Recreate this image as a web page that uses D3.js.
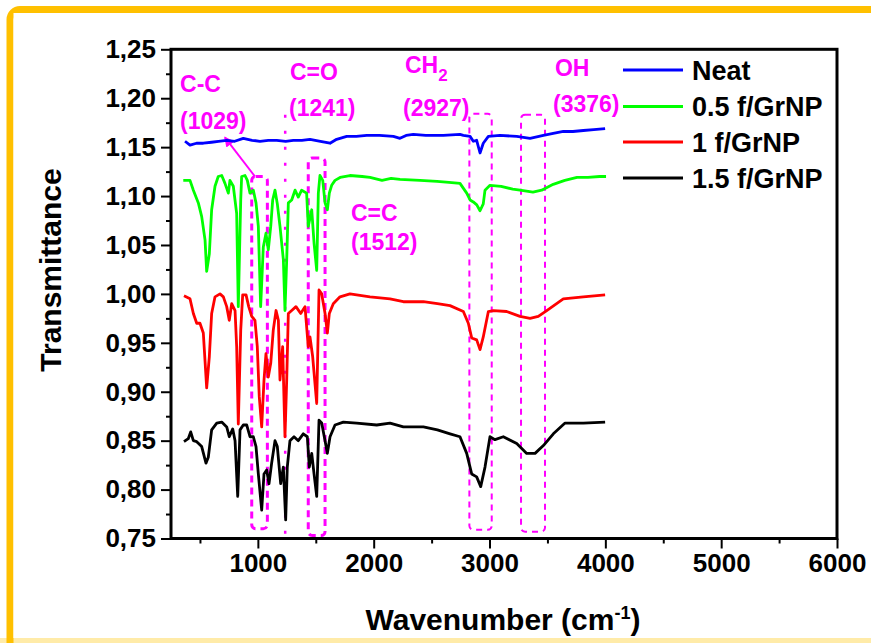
<!DOCTYPE html>
<html><head><meta charset="utf-8">
<script src="https://cdn.jsdelivr.net/npm/d3@7/dist/d3.min.js"></script>
<style>
html,body{margin:0;padding:0;background:#fff;}
svg text{font-family:"Liberation Sans",Arial,sans-serif;font-weight:bold;}
</style></head>
<body><svg id="c" width="871" height="643"></svg>
<script>
// ---- data ----
const seriesNames = ["Neat", "0.5 f/GrNP", "1 f/GrNP", "1.5 f/GrNP"];
const xMajorTicks = [1000, 2000, 3000, 4000, 5000, 6000];
const xMinorTicks = [500, 1500, 2500, 3500, 4500, 5500];
const yMajorTicks = [0.75, 0.80, 0.85, 0.90, 0.95, 1.00, 1.05, 1.10, 1.15, 1.20, 1.25];
const yMinorTicks = [0.775, 0.825, 0.875, 0.925, 0.975, 1.025, 1.075, 1.125, 1.175, 1.225];

const neat = [[371,1.156],[414,1.152],[470,1.154],[529,1.154],[600,1.155],[660,1.156],[731,1.157],[800,1.156],[874,1.159],[950,1.157],[1018,1.156],[1090,1.157],[1163,1.157],[1240,1.156],[1306,1.157],[1380,1.157],[1450,1.158],[1540,1.156],[1623,1.154],[1680,1.158],[1767,1.161],[1850,1.161],[1940,1.162],[2050,1.162],[2170,1.161],[2227,1.159],[2280,1.162],[2342,1.163],[2450,1.162],[2601,1.162],[2745,1.163],[2774,1.162],[2832,1.161],[2860,1.156],[2889,1.157],[2918,1.144],[2946,1.154],[2990,1.161],[3090,1.162],[3235,1.161],[3350,1.159],[3465,1.162],[3550,1.164],[3637,1.166],[3720,1.166],[3810,1.167],[3900,1.168],[3998,1.169]];

const grnp05 = [[356,1.116],[414,1.116],[443,1.106],[486,1.093],[515,1.079],[544,1.055],[558,1.023],[581,1.041],[601,1.086],[630,1.110],[658,1.120],[688,1.121],[716,1.113],[745,1.103],[759,1.116],[788,1.110],[817,1.082],[831,0.987],[852,1.096],[860,1.120],[889,1.121],[909,1.116],[932,1.103],[961,1.106],[984,1.093],[1004,1.069],[1024,0.987],[1047,1.048],[1070,1.062],[1090,1.045],[1111,1.069],[1128,1.096],[1148,1.106],[1168,1.092],[1191,1.069],[1220,1.035],[1234,0.983],[1249,1.035],[1263,1.093],[1292,1.096],[1321,1.106],[1349,1.099],[1378,1.106],[1421,1.103],[1435,1.069],[1465,1.086],[1485,1.052],[1508,1.024],[1522,1.103],[1536,1.121],[1560,1.116],[1580,1.093],[1600,1.086],[1617,1.103],[1637,1.111],[1666,1.116],[1710,1.119],[1795,1.121],[1900,1.120],[1968,1.119],[2072,1.116],[2150,1.118],[2227,1.117],[2400,1.116],[2547,1.115],[2650,1.114],[2745,1.113],[2803,1.103],[2832,1.096],[2860,1.094],[2890,1.091],[2918,1.085],[2946,1.092],[2961,1.106],[3004,1.111],[3100,1.110],[3200,1.107],[3263,1.106],[3375,1.104],[3450,1.106],[3550,1.112],[3650,1.116],[3755,1.119],[3850,1.119],[3950,1.120],[4006,1.120]];

const grnp1 = [[362,0.998],[414,0.995],[443,0.980],[472,0.970],[500,0.970],[529,0.960],[558,0.904],[581,0.936],[601,0.980],[630,0.997],[673,1.000],[702,0.997],[731,0.987],[753,0.973],[774,0.990],[803,0.983],[817,0.946],[831,0.867],[852,0.963],[869,0.999],[898,0.999],[921,0.987],[947,0.977],[975,0.973],[995,0.946],[1012,0.895],[1033,0.864],[1053,0.912],[1070,0.939],[1090,0.915],[1111,0.929],[1133,0.963],[1157,0.983],[1177,0.973],[1191,0.912],[1214,0.946],[1234,0.854],[1249,0.912],[1263,0.980],[1292,0.983],[1329,0.987],[1370,0.980],[1407,0.987],[1435,0.946],[1450,0.956],[1473,0.936],[1508,0.888],[1528,1.004],[1551,1.000],[1580,0.980],[1600,0.960],[1617,0.980],[1651,0.990],[1709,0.997],[1795,1.000],[1968,0.997],[2141,0.995],[2256,0.992],[2429,0.992],[2550,0.990],[2659,0.988],[2774,0.982],[2817,0.970],[2846,0.955],[2889,0.953],[2918,0.943],[2946,0.956],[2990,0.982],[3033,0.983],[3148,0.982],[3263,0.977],[3350,0.975],[3421,0.977],[3494,0.983],[3637,0.995],[3810,0.997],[3998,0.999]];

const grnp15 = [[362,0.849],[399,0.852],[420,0.859],[443,0.850],[472,0.849],[515,0.844],[552,0.827],[572,0.833],[601,0.861],[645,0.868],[688,0.869],[731,0.864],[753,0.854],[783,0.862],[803,0.850],[826,0.793],[846,0.861],[874,0.866],[904,0.866],[932,0.854],[961,0.854],[984,0.844],[1004,0.816],[1033,0.779],[1053,0.816],[1076,0.820],[1096,0.806],[1119,0.827],[1148,0.850],[1168,0.844],[1197,0.806],[1220,0.823],[1240,0.769],[1254,0.823],[1277,0.850],[1312,0.854],[1349,0.850],[1392,0.857],[1427,0.854],[1444,0.823],[1465,0.837],[1485,0.816],[1508,0.793],[1528,0.871],[1551,0.868],[1580,0.850],[1600,0.837],[1623,0.854],[1666,0.866],[1738,0.869],[1853,0.868],[2026,0.866],[2141,0.868],[2256,0.864],[2429,0.864],[2550,0.861],[2659,0.857],[2745,0.854],[2803,0.837],[2846,0.816],[2889,0.813],[2924,0.803],[2961,0.823],[3004,0.854],[3047,0.851],[3119,0.854],[3235,0.847],[3321,0.837],[3393,0.837],[3465,0.845],[3551,0.857],[3652,0.868],[3810,0.868],[3998,0.869]];

// annotation bands: [wnLeft, wnRight, Tbottom, Ttop]
const bandCC = [947, 1082, 0.760, 1.120];
const bandCeqC = [1435, 1580, 0.753, 1.139];
const bandCH2 = [2826, 3019, 0.759, 1.184];
const bandOH = [3272, 3479, 0.757, 1.183];
const lineCO = [1236, 0.752, 1.183];
const peakLabels = ["(1029)", "(1241)", "(2927)", "(3376)", "(1512)"];

// ---- drawing ----
const colors = ["#0000FF", "#00FF00", "#FF0000", "#000000"];
const allSeries = [neat, grnp05, grnp1, grnp15];
const W = 871, H = 643;
const L = 171, R = 837, T = 49.3, B = 538.5;
const svg = d3.select("#c");

const x = d3.scaleLinear().domain([250, 6000]).range([L, R]);
const y = d3.scaleLinear().domain([0.75, 1.25]).range([B, T]);

// outer frame (orange border)
svg.append("rect").attr("x", 0).attr("y", 638).attr("width", W).attr("height", 5).attr("fill", "#FFEBA8");
svg.append("rect").attr("x", 10).attr("y", 9.5).attr("width", 1000).attr("height", 700)
  .attr("rx", 10).attr("fill", "none").attr("stroke", "#FFC000").attr("stroke-width", 7);
svg.append("rect").attr("x", 13.5).attr("y", 13).attr("width", 1000).attr("height", 625).attr("fill", "#fff");

const magenta = "#FF00FF";
const ann = svg.append("g");
function band(b, sw) {
  ann.append("rect")
    .attr("x", x(b[0])).attr("y", y(b[3]))
    .attr("width", x(b[1]) - x(b[0])).attr("height", y(b[2]) - y(b[3]))
    .attr("rx", 4).attr("fill", "none").attr("stroke", magenta)
    .attr("stroke-width", sw).attr("stroke-dasharray", sw > 2.5 ? "7,5" : "6,5");
}
band(bandCC, 3);
band(bandCeqC, 3);
band(bandCH2, 2);
band(bandOH, 2);
ann.append("line").attr("x1", x(lineCO[0])).attr("x2", x(lineCO[0]))
  .attr("y1", y(lineCO[2])).attr("y2", y(lineCO[1]))
  .attr("stroke", magenta).attr("stroke-width", 2.5).attr("stroke-dasharray", "3,13");

// lines
const line = d3.line().x(d => x(d[0])).y(d => y(d[1]));
svg.append("g").selectAll("path").data(allSeries).join("path")
  .attr("d", line).attr("fill", "none")
  .attr("stroke", (d, i) => colors[i]).attr("stroke-width", 2.8)
  .attr("stroke-linejoin", "round");

// arrow
const defs = svg.append("defs");
defs.append("marker").attr("id", "ah").attr("viewBox", "0 0 10 10").attr("refX", 9).attr("refY", 5)
  .attr("markerWidth", 5).attr("markerHeight", 5).attr("orient", "auto-start-reverse")
  .append("path").attr("d", "M0,0 L10,5 L0,10 z").attr("fill", magenta);
ann.append("line").attr("x1", x(975)).attr("y1", y(1.120)).attr("x2", x(715)).attr("y2", y(1.160))
  .attr("stroke", magenta).attr("stroke-width", 2).attr("marker-end", "url(#ah)");

// annotation text
const at = svg.append("g").attr("fill", magenta).style("font-size", "23px");
function txt(s, wn, t) { return at.append("text").attr("x", x(wn)).attr("y", y(t)).text(s); }
txt("C-C", 328, 1.206);
txt(peakLabels[0], 328, 1.169);
txt("C=O", 1277, 1.219);
txt(peakLabels[1], 1269, 1.182);
const ch = txt("CH", 2270, 1.226);
ch.append("tspan").attr("dy", 8).style("font-size", "17px").text("2");
txt(peakLabels[2], 2253, 1.182);
txt("OH", 3565, 1.223);
txt(peakLabels[3], 3548, 1.186);
txt("C=C", 1804, 1.075);
txt(peakLabels[4], 1804, 1.045);

// axes
const fmtY = d => d3.format(".2f")(d).replace(".", ",");
const gx = svg.append("g").attr("transform", `translate(0,${B})`);
gx.call(d3.axisBottom(x).tickValues(xMajorTicks).tickSize(10).tickPadding(5).tickFormat(d3.format("d")));
const gxm = svg.append("g").attr("transform", `translate(0,${B})`);
gxm.call(d3.axisBottom(x).tickValues(xMinorTicks).tickSize(5).tickFormat(""));
const gy = svg.append("g").attr("transform", `translate(${L},0)`);
gy.call(d3.axisLeft(y).tickValues(yMajorTicks).tickSize(10).tickPadding(5).tickFormat(fmtY));
const gym = svg.append("g").attr("transform", `translate(${L},0)`);
gym.call(d3.axisLeft(y).tickValues(yMinorTicks).tickSize(5).tickFormat(""));
[gx, gxm, gy, gym].forEach(g => {
  g.select(".domain").remove();
  g.selectAll(".tick line").attr("stroke", "#000").attr("stroke-width", 2);
  g.selectAll("text").attr("fill", "#000").style("font-size", "26px")
    .style("font-family", '"Liberation Sans",Arial,sans-serif').style("font-weight", "bold");
});

// plot frame
svg.append("rect").attr("x", L).attr("y", T).attr("width", R - L).attr("height", B - T)
  .attr("fill", "none").attr("stroke", "#000").attr("stroke-width", 3);

// axis titles
svg.append("text").attr("x", (L + R) / 2 - 1).attr("y", 630).attr("text-anchor", "middle")
  .style("font-size", "30px").text("Wavenumber (cm")
  .append("tspan").attr("dy", -11).style("font-size", "18px").text("-1")
  .select(function () { return this.parentNode; })
  .append("tspan").attr("dy", 11).style("font-size", "30px").text(")");
svg.append("text").attr("transform", `translate(61,270) rotate(-90)`)
  .attr("text-anchor", "middle").style("font-size", "30px").text("Transmittance");

// legend
const lg = svg.append("g");
const rows = [70, 106.5, 142, 178];
seriesNames.forEach((n, i) => {
  lg.append("line").attr("x1", 623).attr("x2", 683).attr("y1", rows[i]).attr("y2", rows[i])
    .attr("stroke", colors[i]).attr("stroke-width", 3);
  lg.append("text").attr("x", 692).attr("y", rows[i] + 9.5).style("font-size", "27px").text(n);
});
</script></body></html>
